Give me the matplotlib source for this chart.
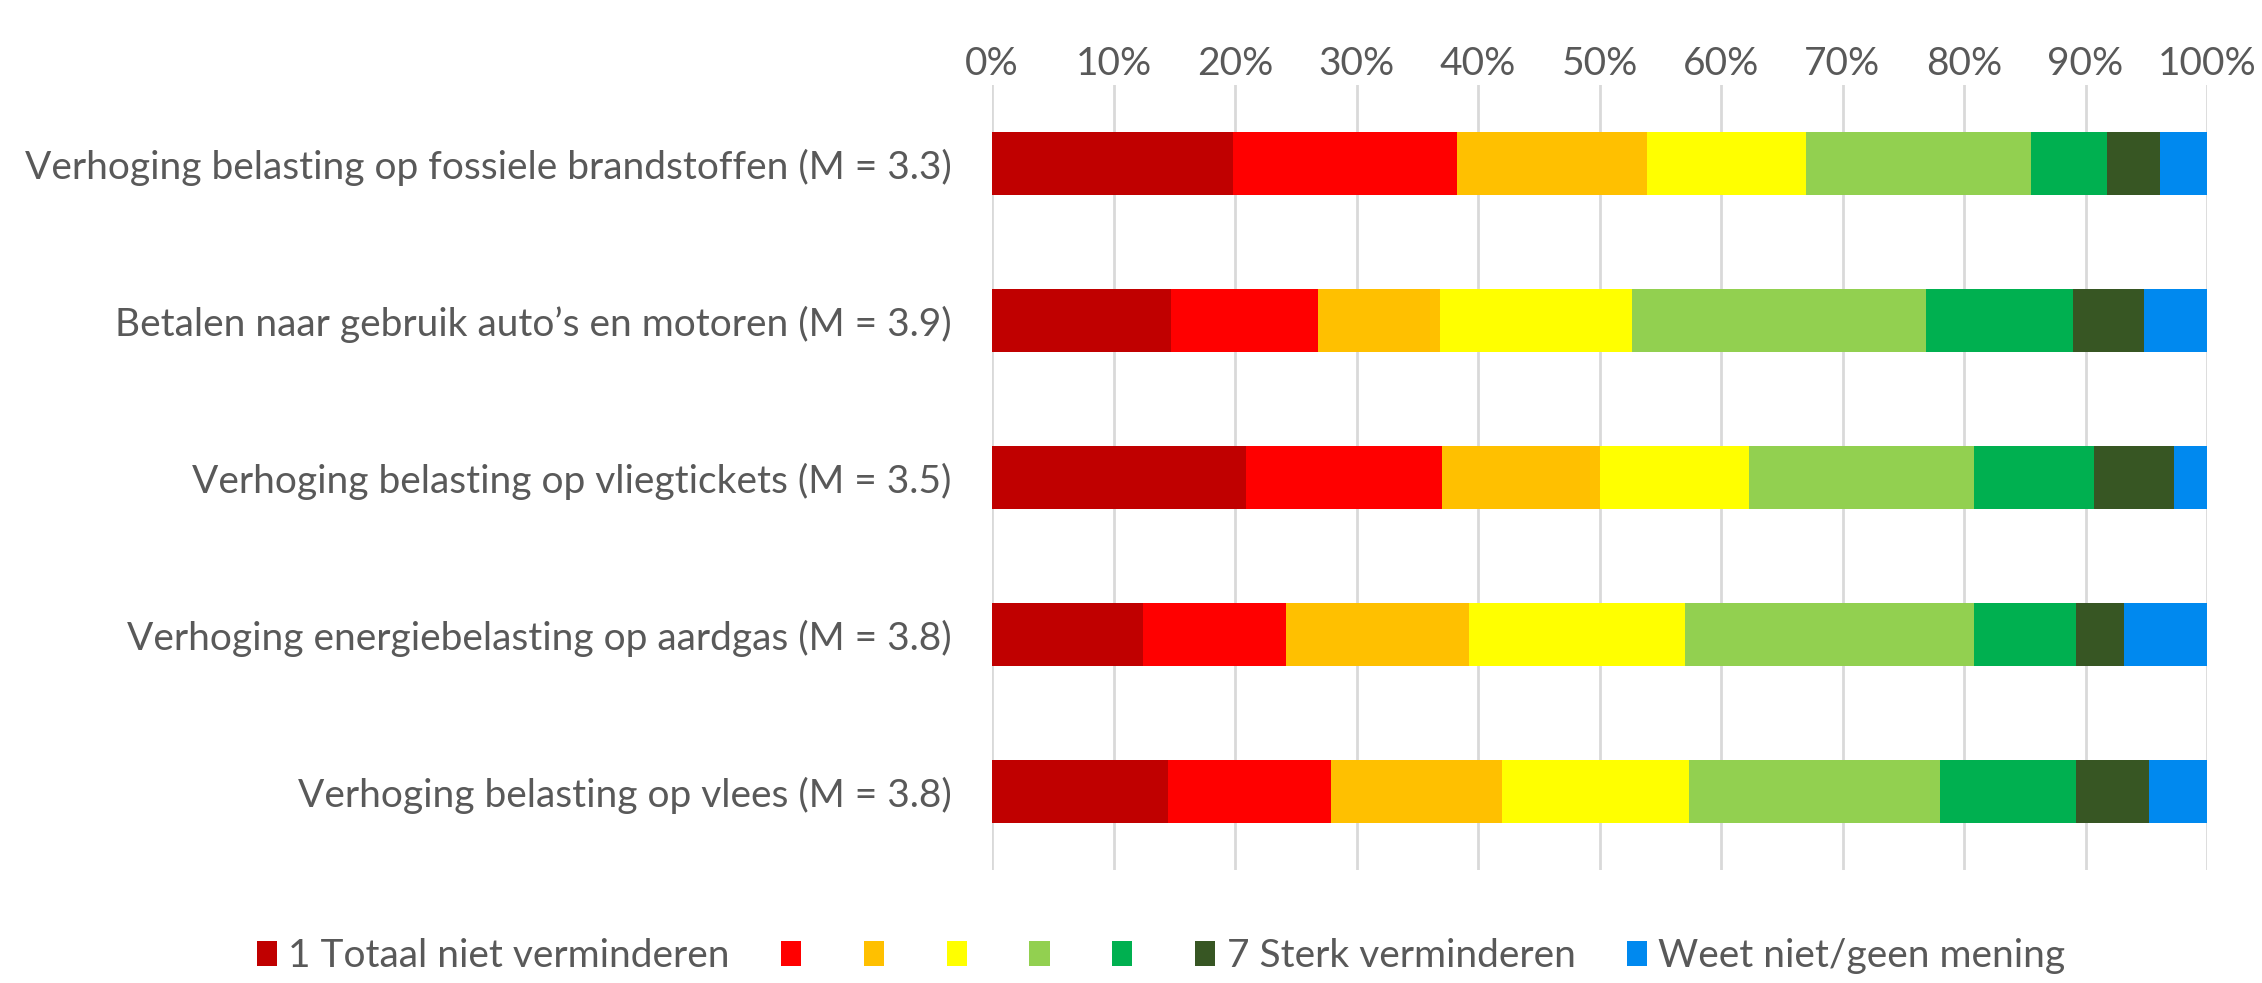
import matplotlib
matplotlib.use("Agg")
import matplotlib.pyplot as plt
from matplotlib.patches import Patch
import numpy as np

categories = [
    "Verhoging belasting op fossiele brandstoffen (M = 3.3)",
    "Betalen naar gebruik auto\u2019s en motoren (M = 3.9)",
    "Verhoging belasting op vliegtickets (M = 3.5)",
    "Verhoging energiebelasting op aardgas (M = 3.8)",
    "Verhoging belasting op vlees (M = 3.8)",
]
series_labels = ["1 Totaal niet verminderen", "", "", "", "", "",
                 "7 Sterk verminderen", "Weet niet/geen mening"]
s1 = [19.8, 14.7, 20.9, 12.4, 14.5]
s2 = [18.5, 12.1, 16.1, 11.8, 13.4]
s3 = [15.6, 10.1, 13.0, 15.1, 14.1]
s4 = [13.1, 15.8, 12.3, 17.7, 15.4]
s5 = [18.5, 24.2, 18.5, 23.8, 20.6]
s6 = [6.3, 12.1, 9.9, 8.4, 11.2]
s7 = [4.3, 5.8, 6.6, 4.0, 6.0]
s8 = [3.9, 5.2, 2.7, 6.8, 4.8]
series = [s1, s2, s3, s4, s5, s6, s7, s8]
colors = ["#C00000", "#FF0000", "#FFC000", "#FFFF00", "#92D050",
          "#00B050", "#375623", "#0089EF"]
xticks = [0, 10, 20, 30, 40, 50, 60, 70, 80, 90, 100]
xticklabels = [f"{t}%" for t in xticks]

plt.rcParams['font.family'] = ['Lato', 'DejaVu Sans']
txt = "#595959"
fs = 28

fig = plt.figure(figsize=(22.62, 9.83), dpi=100)
ax = fig.add_axes([992/2262, 1-870/983, (2207-992)/2262, (870-85)/983])

y = np.arange(len(categories))
left = np.zeros(len(categories))
for vals, c, lab in zip(series, colors, series_labels):
    v = np.array(vals, dtype=float)
    ax.barh(y, v, left=left, height=0.405, color=c, label=lab, zorder=3)
    left += v

ax.set_xlim(0, 100)
ax.set_ylim(-0.5, len(categories) - 0.5)
ax.invert_yaxis()
ax.set_yticks(y)
ax.set_yticklabels(categories)
ax.set_xticks(xticks)
ax.set_xticklabels(xticklabels)
ax.xaxis.tick_top()
ax.tick_params(axis='x', length=0, pad=2, labelsize=fs, labelcolor=txt)
ax.tick_params(axis='y', length=0, pad=29, labelsize=fs, labelcolor=txt)
ax.grid(axis='x', color='#D9D9D9', linewidth=2, zorder=0)
for s in ax.spines.values():
    s.set_visible(False)

handles = [Patch(facecolor=c, edgecolor='none') for c in colors]
fig.legend(handles, series_labels, loc='center', bbox_to_anchor=(1161/2262, 1-956/983),
           ncol=8, frameon=False, fontsize=fs, labelcolor=txt,
           handlelength=0.52, handleheight=0.6, handletextpad=0.29, columnspacing=1.32)

fig.savefig("out.png", dpi=100)
